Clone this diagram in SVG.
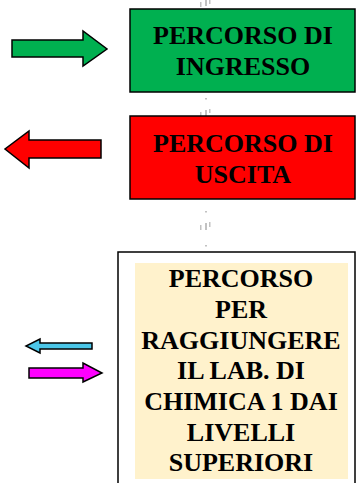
<svg xmlns="http://www.w3.org/2000/svg" width="356" height="483" viewBox="0 0 356 483">
<style>
.box{stroke:#000;stroke-width:1.5}
.arr{stroke:#000;stroke-width:1.5;stroke-linejoin:miter}
.t{font-family:"Liberation Serif","Times New Roman",serif;font-weight:bold;font-size:26px;fill:#000;text-anchor:middle}
.mk{fill:#9a9a9a}
</style>
<rect width="356" height="483" fill="#fff"/>
<g id="marks" opacity="0.6">
<rect class="mk" x="200" y="2" width="1.5" height="5"/><rect class="mk" x="205" y="0" width="2" height="6"/><rect class="mk" x="209" y="0" width="1.5" height="4"/>
<rect class="mk" x="205" y="98" width="2" height="1.5"/>
<rect class="mk" x="200" y="112" width="1.5" height="4"/><rect class="mk" x="205" y="110" width="2" height="6"/><rect class="mk" x="209" y="109" width="1.5" height="4"/>
<rect class="mk" x="205" y="211" width="2" height="1.5"/>
<rect class="mk" x="200" y="225" width="1.5" height="5"/><rect class="mk" x="205" y="223" width="2" height="7"/><rect class="mk" x="209" y="222" width="1.5" height="5"/>
<rect class="mk" x="205" y="245" width="2" height="1.5"/>
</g>
<g id="arrows">
<polygon class="arr" fill="#00B050" points="12,40 83,40 83,31 107,49 83,66 83,57 12,57"/>
<polygon class="arr" fill="#FF0000" points="101,140 29,140 29,131 5,149 29,168 29,158 101,158"/>
<polygon class="arr" fill="#4BC6E8" points="92,343 40,343 40,339 26,346 40,353 40,349 92,349"/>
<polygon class="arr" fill="#FF00FF" points="29,368 83,368 83,363 102,373 83,382 83,378 29,378"/>
</g>
<g id="ingresso">
<rect class="box" x="130" y="9" width="225" height="83" fill="#00B050"/>
<text class="t" x="243" y="44">PERCORSO DI</text>
<text class="t" x="243" y="75">INGRESSO</text>
</g>
<g id="uscita">
<rect class="box" x="130" y="116" width="225" height="83" fill="#FF0000"/>
<text class="t" x="243" y="152">PERCORSO DI</text>
<text class="t" x="243" y="183">USCITA</text>
</g>
<g id="chimica">
<rect class="box" x="118" y="252" width="237" height="240" fill="#fff"/>
<rect x="135" y="263" width="213" height="216" fill="#FFF2CC"/>
<text class="t" x="241" y="287">PERCORSO</text>
<text class="t" x="241" y="318">PER</text>
<text class="t" x="241" y="349">RAGGIUNGERE</text>
<text class="t" x="241" y="379">IL LAB. DI</text>
<text class="t" x="241" y="410">CHIMICA 1 DAI</text>
<text class="t" x="241" y="441">LIVELLI</text>
<text class="t" x="241" y="471">SUPERIORI</text>
</g>
</svg>
